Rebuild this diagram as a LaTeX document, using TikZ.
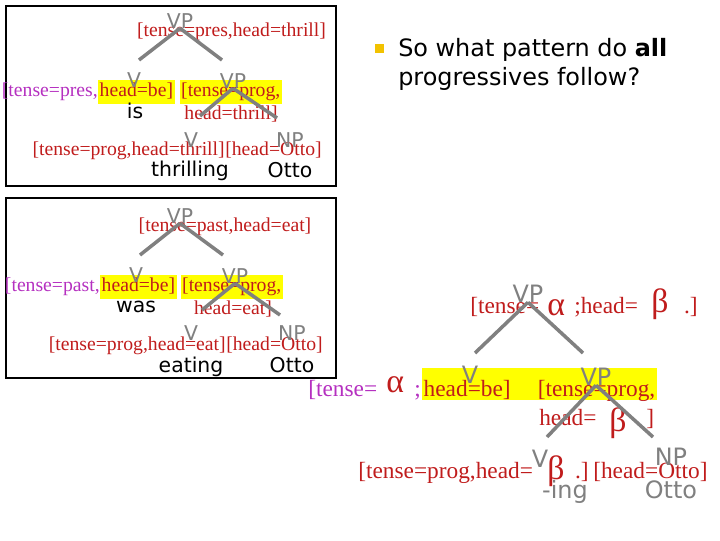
\documentclass[tikz,border=0pt]{standalone}
\usepackage{fontspec}
\setmainfont{Liberation Serif}
\newfontfamily\catfont{DejaVu Sans}
\usepackage{tikz}
\definecolor{featred}{HTML}{C01C1C}
\definecolor{featmag}{HTML}{B530C0}
\definecolor{nodegray}{HTML}{808080}
\definecolor{hlyel}{HTML}{FFFF00}
\definecolor{bulgold}{HTML}{F2C200}
\tikzset{
  cat/.style={font=\catfont\fontsize{14.5pt}{17pt}\selectfont, text=nodegray,
    inner sep=0pt, anchor=base},
  catbig/.style={cat, font=\catfont\fontsize{17pt}{20pt}\selectfont},
  word/.style={cat, text=black},
  feat/.style={font=\fontsize{14pt}{16pt}\selectfont, text=featred,
    inner sep=0pt, anchor=base},
  featbig/.style={feat, font=\fontsize{16.6pt}{19pt}\selectfont},
  greek/.style={feat, font=\fontsize{24pt}{27pt}\selectfont},
  hl/.style={fill=hlyel, inner xsep=1pt, inner ysep=0pt, text height=11.4pt,
    text depth=5pt},
  hlbig/.style={hl, text height=19.9pt, text depth=2.8pt},
  branch/.style={draw=nodegray, line width=2.5pt},
  frame/.style={draw=black, line width=1pt},
  bullsq/.style={fill=bulgold, inner sep=0pt, minimum size=6.4pt},
  bulltext/.style={font=\catfont\fontsize{17pt}{20pt}\selectfont,
    inner sep=0pt, anchor=base west}}

\begin{document}
\begin{tikzpicture}[x=0.025cm, y=-0.025cm]
  \useasboundingbox (0,0) rectangle (720,540);
  % the two framed example trees
  \draw[frame] (6,6) rectangle (336,186);
  \draw[frame] (6,198) rectangle (336,378);

  % tree 1: is thrilling Otto
  \node[feat] (vp1f) at (231.5,36) {[tense=pres,head=thrill]};
  \node[feat, text=featmag, anchor=base east] (v1fa) at (98,96.5) {[tense=pres,};
  \node[feat, hl, anchor=base west] (v1fb) at (98,96.5) {head=be]};
  \node[feat, hl, anchor=base east] (vp1bf) at (282,96.5) {[tense=prog,};
  \node[feat] (vp1bg) at (231,119.5) {head=thrill]};
  \node[feat, anchor=base east] (v1cf) at (225,155) {[tense=prog,head=thrill]};
  \node[feat, anchor=base west] (np1f) at (225,155) {[head=Otto]};
  \node[cat] (vp1) at (180,28) {VP};
  \node[cat] (v1) at (134,87) {V};
  \node[cat] (vp1b) at (233,88) {VP};
  \node[cat] (v1c) at (191,147) {V};
  \node[cat] (np1) at (290,147) {NP};
  \node[word] (is) at (135,118) {is};
  \node[word] (thrilling) at (190,176) {thrilling};
  \node[word] (otto1) at (290,177) {Otto};
  \coordinate (t1l) at (139,60);
  \coordinate (t1r) at (222,60);
  \coordinate (t1bl) at (200,116);
  \coordinate (t1br) at (277,118);
  \draw[branch] (vp1.south) -- (t1l);
  \draw[branch] (vp1.south) -- (t1r);
  \draw[branch] (vp1b.south) -- (t1bl);
  \draw[branch] (vp1b.south) -- (t1br);

  % tree 2: was eating Otto
  \node[feat] (vp2f) at (225,231.5) {[tense=past,head=eat]};
  \node[feat, text=featmag, anchor=base east] (v2fa) at (100,291.5) {[tense=past,};
  \node[feat, hl, anchor=base west] (v2fb) at (100,291.5) {head=be]};
  \node[feat, hl, anchor=base east] (vp2bf) at (283,291.5) {[tense=prog,};
  \node[feat] (vp2bg) at (233,314.5) {head=eat]};
  \node[feat, anchor=base east] (v2cf) at (226,350) {[tense=prog,head=eat]};
  \node[feat, anchor=base west] (np2f) at (226,350) {[head=Otto]};
  \node[cat] (vp2) at (180,223) {VP};
  \node[cat] (v2) at (136,282) {V};
  \node[cat] (vp2b) at (235,283) {VP};
  \node[cat] (v2c) at (191,340) {V};
  \node[cat] (np2) at (292,340) {NP};
  \node[word] (was) at (136,312) {was};
  \node[word] (eating) at (191,372) {eating};
  \node[word] (otto2) at (292,372) {Otto};
  \coordinate (t2l) at (140,255);
  \coordinate (t2r) at (223,255);
  \coordinate (t2bl) at (202,310);
  \coordinate (t2br) at (280,315);
  \draw[branch] (vp2.south) -- (t2l);
  \draw[branch] (vp2.south) -- (t2r);
  \draw[branch] (vp2b.south) -- (t2bl);
  \draw[branch] (vp2b.south) -- (t2br);

  % question
  \node[bullsq] (bul) at (379,48) {};
  \node[bulltext] (q1) at (398,56) {So what pattern do \textbf{all}};
  \node[bulltext] (q2) at (398,85) {progressives follow?};

  % tree 3: the general pattern
  \node[featbig, anchor=base west] (vp3fa) at (470,313) {[tense=};
  \node[greek, anchor=base west] (vp3al) at (547,315) {α};
  \node[featbig, anchor=base west] (vp3fb) at (574,313) {;head=};
  \node[greek, anchor=base west] (vp3be) at (651,312) {β};
  \node[featbig, anchor=base east] (vp3fc) at (698,313) {.]};
  \node[featbig, text=featmag, anchor=base west] (v3fa) at (308,396) {[tense=};
  \node[greek, anchor=base west] (v3al) at (386,392) {α};
  \node[featbig, text=featmag, anchor=base west] (v3sc) at (414,396) {;};
  \node[featbig, hlbig, anchor=base west] (v3fb) at (422,396) {head=be]};
  \node[featbig, hlbig, anchor=base east] (vp3bf) at (657,396) {[tense=prog,};
  \fill[hlyel] (v3fb.north east) rectangle (vp3bf.south west);
  \node[featbig, anchor=base west] (vp3bg) at (539,425) {head=};
  \node[greek, anchor=base west] (vp3bb) at (609,431) {β};
  \node[featbig, anchor=base west] (vp3bc) at (646,425) {]};
  \node[featbig, anchor=base west] (v3cf) at (358,478) {[tense=prog,head=};
  \node[greek, anchor=base west] (v3cb) at (547,479) {β};
  \node[featbig, anchor=base east] (v3cd) at (589,478) {.]};
  \node[featbig, anchor=base west] (np3f) at (593,478) {[head=Otto]};
  \node[catbig] (vp3) at (528,302) {VP};
  \node[catbig] (v3) at (470,383) {V};
  \node[catbig] (vp3b) at (596,385) {VP};
  \node[catbig] (v3c) at (540,467) {V};
  \node[catbig] (np3) at (671,465) {NP};
  \node[catbig] (ing) at (565,498) {-ing};
  \node[catbig] (otto3) at (671,498) {Otto};
  \coordinate (t3l) at (475,353);
  \coordinate (t3r) at (583,353);
  \coordinate (t3bl) at (547,437);
  \coordinate (t3br) at (653,437);
  \draw[branch] (vp3.south) -- (t3l);
  \draw[branch] (vp3.south) -- (t3r);
  \draw[branch] (vp3b.south) -- (t3bl);
  \draw[branch] (vp3b.south) -- (t3br);
\end{tikzpicture}
\end{document}
